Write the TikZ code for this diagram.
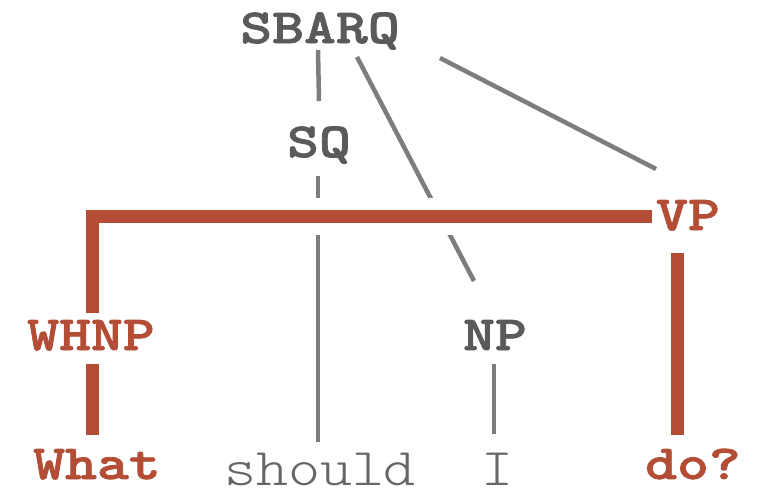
\documentclass[tikz,border=0pt]{standalone}
\usepackage{fontspec}
% a wide slab-serif typewriter face for labels and words
\newfontfamily\treebold[FakeStretch=1.24,FakeBold=1.6]{lmmonolt10-bold.otf}
\newfontfamily\treeword[FakeStretch=1.15]{lmmonolt10-regular.otf}
\begin{document}
\definecolor{rust}{HTML}{B34D35}
\definecolor{labgray}{HTML}{5A5A5A}
\definecolor{wordgray}{HTML}{666666}
\definecolor{edgegray}{HTML}{7D7D7D}
\begin{tikzpicture}[x=1pt,y=-1pt,
  tag/.style={anchor=base,inner sep=0pt,font=\fontsize{49}{56}\treebold,text=labgray},
  hitag/.style={tag,text=rust},
  word/.style={anchor=base,inner sep=0pt,font=\fontsize{53}{60}\treeword,text=wordgray},
  hiword/.style={tag,text=rust},
  edge/.style={draw=edgegray,line width=4.5pt},
  hiedge/.style={draw=rust,line width=13pt},
  halo/.style={draw=white,line width=37pt}]
\useasboundingbox[fill=white] (0,0) rectangle (760,488);

% tree labels
\node[tag]   (sbarq)  at (320,43)  {SBARQ};
\node[tag]   (sq)     at (319,157) {SQ};
\node[hitag] (vp)     at (688,230) {VP};
\node[hitag] (whnp)   at (91,350)  {WHNP};
\node[tag]   (np)     at (495,350) {NP};

% words
\node[hiword] (what)   at (97,479)  {What};
\node[word]   (should) at (320,485) {should};
\node[word]   (i)      at (497,485) {I};
\node[hiword] (do)     at (693,479) {do?};

% plain branches
\draw[edge] ([shift={(-2,7)}]sbarq.base) -- ([shift={(0,-56)}]sq.base);
\draw[edge] ([shift={(-1,19)}]sq.base) -- ([shift={(-2,-43)}]should.base);
\draw[edge] ([shift={(37,14)}]sbarq.base) -- ([shift={(-21,-69)}]np.base);
\draw[edge] ([shift={(120,15)}]sbarq.base) -- ([shift={(-32,-61)}]vp.base);
\draw[edge] ([shift={(-1,14)}]np.base) -- ([shift={(-3,-51)}]i.base);

% highlighted path, cut free of the branches it crosses
\draw[halo] ([shift={(1,-37)}]whnp.base) |- ([shift={(-36,-14)}]vp.base);
\draw[hiedge,line join=miter] ([shift={(1,-37)}]whnp.base) |- ([shift={(-36,-14)}]vp.base);
\draw[hiedge] ([shift={(1,14)}]whnp.base) -- ([shift={(-5,-44)}]what.base);
\draw[hiedge] ([shift={(-11,23)}]vp.base) -- ([shift={(-16,-44)}]do.base);
\end{tikzpicture}
\end{document}
